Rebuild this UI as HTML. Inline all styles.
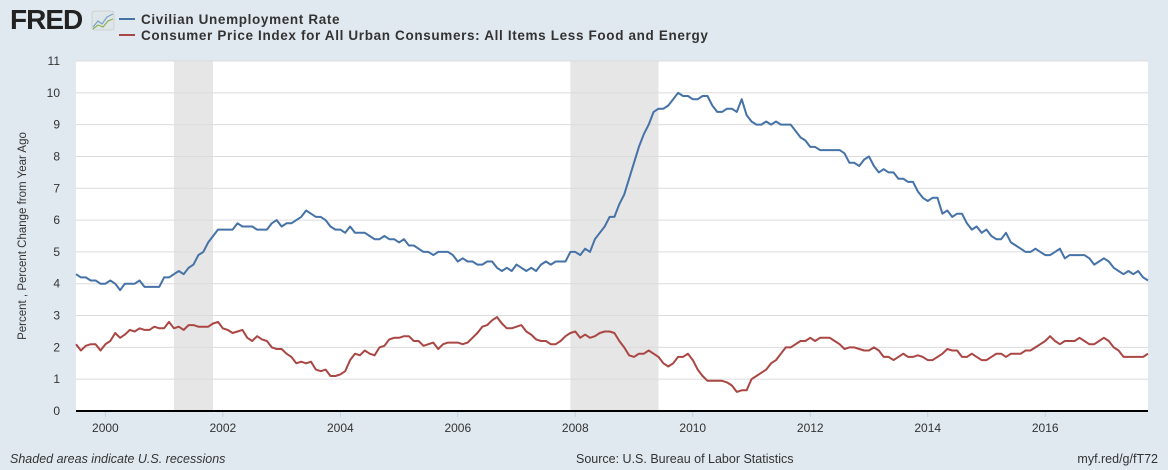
<!DOCTYPE html>
<html><head><meta charset="utf-8"><style>
body{margin:0;background:#e1e9f0;font-family:"Liberation Sans",sans-serif;}
#wrap{position:relative;width:1168px;height:470px;overflow:hidden;background:#e1e9f0;}
svg text{font-family:"Liberation Sans",sans-serif;}
</style></head><body>
<div id="wrap">
<svg id="chart" width="1168" height="470">
  <text x="10" y="29" font-size="28" font-weight="bold" fill="#222" letter-spacing="-1">FRED</text>
  <g>
    <rect x="92" y="11" width="22" height="19" rx="2" fill="#dfe6ea" stroke="#bbb" stroke-width="0.5"/>
    <polyline points="93,27 98,21 102,24 107,17 113,14" fill="none" stroke="#7aa3c9" stroke-width="1.2"/>
    <polyline points="93,29 98,25 103,27 108,21 113,19" fill="none" stroke="#8ab34a" stroke-width="1.2"/>
  </g>
  <g>
    <line x1="119" y1="19" x2="135" y2="19" stroke="#4572a7" stroke-width="2"/>
    <text x="141" y="24" font-size="13.5" font-weight="bold" fill="#333" letter-spacing="0.65">Civilian Unemployment Rate</text>
  </g>
  <g>
    <line x1="119" y1="35" x2="135" y2="35" stroke="#aa4643" stroke-width="2"/>
    <text x="141" y="40" font-size="13.5" font-weight="bold" fill="#333" letter-spacing="0.65">Consumer Price Index for All Urban Consumers: All Items Less Food and Energy</text>
  </g>
  <rect x="76" y="61" width="1072" height="350" fill="#fff"/>
  <g id="recessions"></g>
  <g id="grid"></g>
  <g id="yticks"></g>
  <g id="xticks"></g>
  <g id="series"></g>
  <line x1="76" y1="411" x2="1148" y2="411" stroke="#000" stroke-width="2"/>
  <text transform="translate(26,236) rotate(-90)" text-anchor="middle" font-size="11.5" fill="#333">Percent , Percent Change from Year Ago</text>
  <text x="10" y="463" font-size="12.5" font-style="italic" fill="#333">Shaded areas indicate U.S. recessions</text>
  <text x="576" y="463" font-size="12.5" fill="#333">Source: U.S. Bureau of Labor Statistics</text>
  <text x="1158" y="463" text-anchor="end" font-size="12.5" fill="#333">myf.red/g/fT72</text>
</svg>
</div>
<script>
const startYear = 1999.5; // Jul 1999 monthly
const unemployment = [4.3,4.2,4.2,4.1,4.1,4.0,
4.0,4.1,4.0,3.8,4.0,4.0,4.0,4.1,3.9,3.9,3.9,3.9,
4.2,4.2,4.3,4.4,4.3,4.5,4.6,4.9,5.0,5.3,5.5,5.7,
5.7,5.7,5.7,5.9,5.8,5.8,5.8,5.7,5.7,5.7,5.9,6.0,
5.8,5.9,5.9,6.0,6.1,6.3,6.2,6.1,6.1,6.0,5.8,5.7,
5.7,5.6,5.8,5.6,5.6,5.6,5.5,5.4,5.4,5.5,5.4,5.4,
5.3,5.4,5.2,5.2,5.1,5.0,5.0,4.9,5.0,5.0,5.0,4.9,
4.7,4.8,4.7,4.7,4.6,4.6,4.7,4.7,4.5,4.4,4.5,4.4,
4.6,4.5,4.4,4.5,4.4,4.6,4.7,4.6,4.7,4.7,4.7,5.0,
5.0,4.9,5.1,5.0,5.4,5.6,5.8,6.1,6.1,6.5,6.8,7.3,
7.8,8.3,8.7,9.0,9.4,9.5,9.5,9.6,9.8,10.0,9.9,9.9,
9.8,9.8,9.9,9.9,9.6,9.4,9.4,9.5,9.5,9.4,9.8,9.3,
9.1,9.0,9.0,9.1,9.0,9.1,9.0,9.0,9.0,8.8,8.6,8.5,
8.3,8.3,8.2,8.2,8.2,8.2,8.2,8.1,7.8,7.8,7.7,7.9,
8.0,7.7,7.5,7.6,7.5,7.5,7.3,7.3,7.2,7.2,6.9,6.7,
6.6,6.7,6.7,6.2,6.3,6.1,6.2,6.2,5.9,5.7,5.8,5.6,
5.7,5.5,5.4,5.4,5.6,5.3,5.2,5.1,5.0,5.0,5.1,5.0,
4.9,4.9,5.0,5.1,4.8,4.9,4.9,4.9,4.9,4.8,4.6,4.7,
4.8,4.7,4.5,4.4,4.3,4.4,4.3,4.4,4.2,4.1];
const coreCpi = [2.1,1.9,2.05,2.1,2.1,1.9,
2.1,2.2,2.45,2.3,2.4,2.55,2.5,2.6,2.55,2.55,2.65,2.6,
2.6,2.8,2.6,2.65,2.55,2.7,2.7,2.65,2.65,2.65,2.75,2.8,
2.6,2.55,2.45,2.5,2.55,2.3,2.2,2.35,2.25,2.2,2.0,1.95,
1.95,1.8,1.7,1.5,1.55,1.5,1.55,1.3,1.25,1.3,1.1,1.1,
1.15,1.25,1.6,1.8,1.75,1.9,1.8,1.75,2.0,2.05,2.25,2.3,
2.3,2.35,2.35,2.2,2.2,2.05,2.1,2.15,1.95,2.1,2.15,2.15,
2.15,2.1,2.15,2.3,2.45,2.65,2.7,2.85,2.95,2.75,2.6,2.6,
2.65,2.7,2.5,2.4,2.25,2.2,2.2,2.1,2.1,2.2,2.35,2.45,
2.5,2.3,2.4,2.3,2.35,2.45,2.5,2.5,2.45,2.2,2.0,1.75,
1.7,1.8,1.8,1.9,1.8,1.7,1.5,1.4,1.5,1.7,1.7,1.8,
1.6,1.3,1.1,0.95,0.95,0.95,0.95,0.9,0.8,0.6,0.65,0.65,
1.0,1.1,1.2,1.3,1.5,1.6,1.8,2.0,2.0,2.1,2.2,2.2,
2.3,2.2,2.3,2.3,2.3,2.2,2.1,1.95,2.0,2.0,1.95,1.9,
1.9,2.0,1.9,1.7,1.7,1.6,1.7,1.8,1.7,1.7,1.75,1.7,
1.6,1.6,1.7,1.8,1.95,1.9,1.9,1.7,1.7,1.8,1.7,1.6,
1.6,1.7,1.8,1.8,1.7,1.8,1.8,1.8,1.9,1.9,2.0,2.1,
2.2,2.35,2.2,2.1,2.2,2.2,2.2,2.3,2.2,2.1,2.1,2.2,
2.3,2.2,2.0,1.9,1.7,1.7,1.7,1.7,1.7,1.8];
const yTickValues = [0,1,2,3,4,5,6,7,8,9,10,11];
const xTickYears = [2000,2002,2004,2006,2008,2010,2012,2014,2016];
const recessionStarts = [2001.167, 2007.917];
const recessionEnds = [2001.833, 2009.417];

const X0=76, X1=1148, Y0=411, Y1=61;
const tMin=startYear, tMax=startYear+(unemployment.length-1)/12;
function xScale(t){return X0+(t-tMin)/(tMax-tMin)*(X1-X0);}
function yScale(v){return Y0-(v/11)*(Y0-Y1);}
const NS="http://www.w3.org/2000/svg";
function mk(tag,attrs,parent){const e=document.createElementNS(NS,tag);for(const k in attrs)e.setAttribute(k,attrs[k]);parent.appendChild(e);return e;}

const rg=document.getElementById('recessions');
recessionStarts.forEach((s,i)=>{
  const r=mk('rect',{x:xScale(s),y:Y1,width:xScale(recessionEnds[i])-xScale(s),height:Y0-Y1,fill:'#e6e6e6'},rg);
  
  
});
const gg=document.getElementById('grid'), yt=document.getElementById('yticks');
yTickValues.forEach(v=>{
  if(v>0){const l=mk('line',{x1:X0,x2:X1,y1:yScale(v),y2:yScale(v),stroke:'#dcdcdc','stroke-width':1},gg);
  
  }
  const t=mk('text',{x:60,y:yScale(v)+4,'text-anchor':'end','font-size':12,fill:'#333'},yt);
  t.textContent=v;
  
  
});
const xt=document.getElementById('xticks');
xTickYears.forEach(y=>{
  const x=xScale(y);
  const l=mk('line',{x1:x,x2:x,y1:Y0,y2:Y0+6,stroke:'#c0d0e0','stroke-width':1},xt);
  
  
  const t=mk('text',{x:x,y:Y0+21,'text-anchor':'middle','font-size':12,fill:'#333'},xt);
  t.textContent=y;
  
  
});
const sg=document.getElementById('series');
function line(data,color,name){
  const pts=data.map((v,i)=>xScale(startYear+i/12).toFixed(1)+','+yScale(v).toFixed(1)).join(' ');
  const p=mk('polyline',{points:pts,fill:'none',stroke:color,'stroke-width':2,'stroke-linejoin':'round'},sg);
  
  
}
line(coreCpi,'#aa4643','core-cpi-line');
line(unemployment,'#4572a7','unemployment-line');
</script>
</body></html>
